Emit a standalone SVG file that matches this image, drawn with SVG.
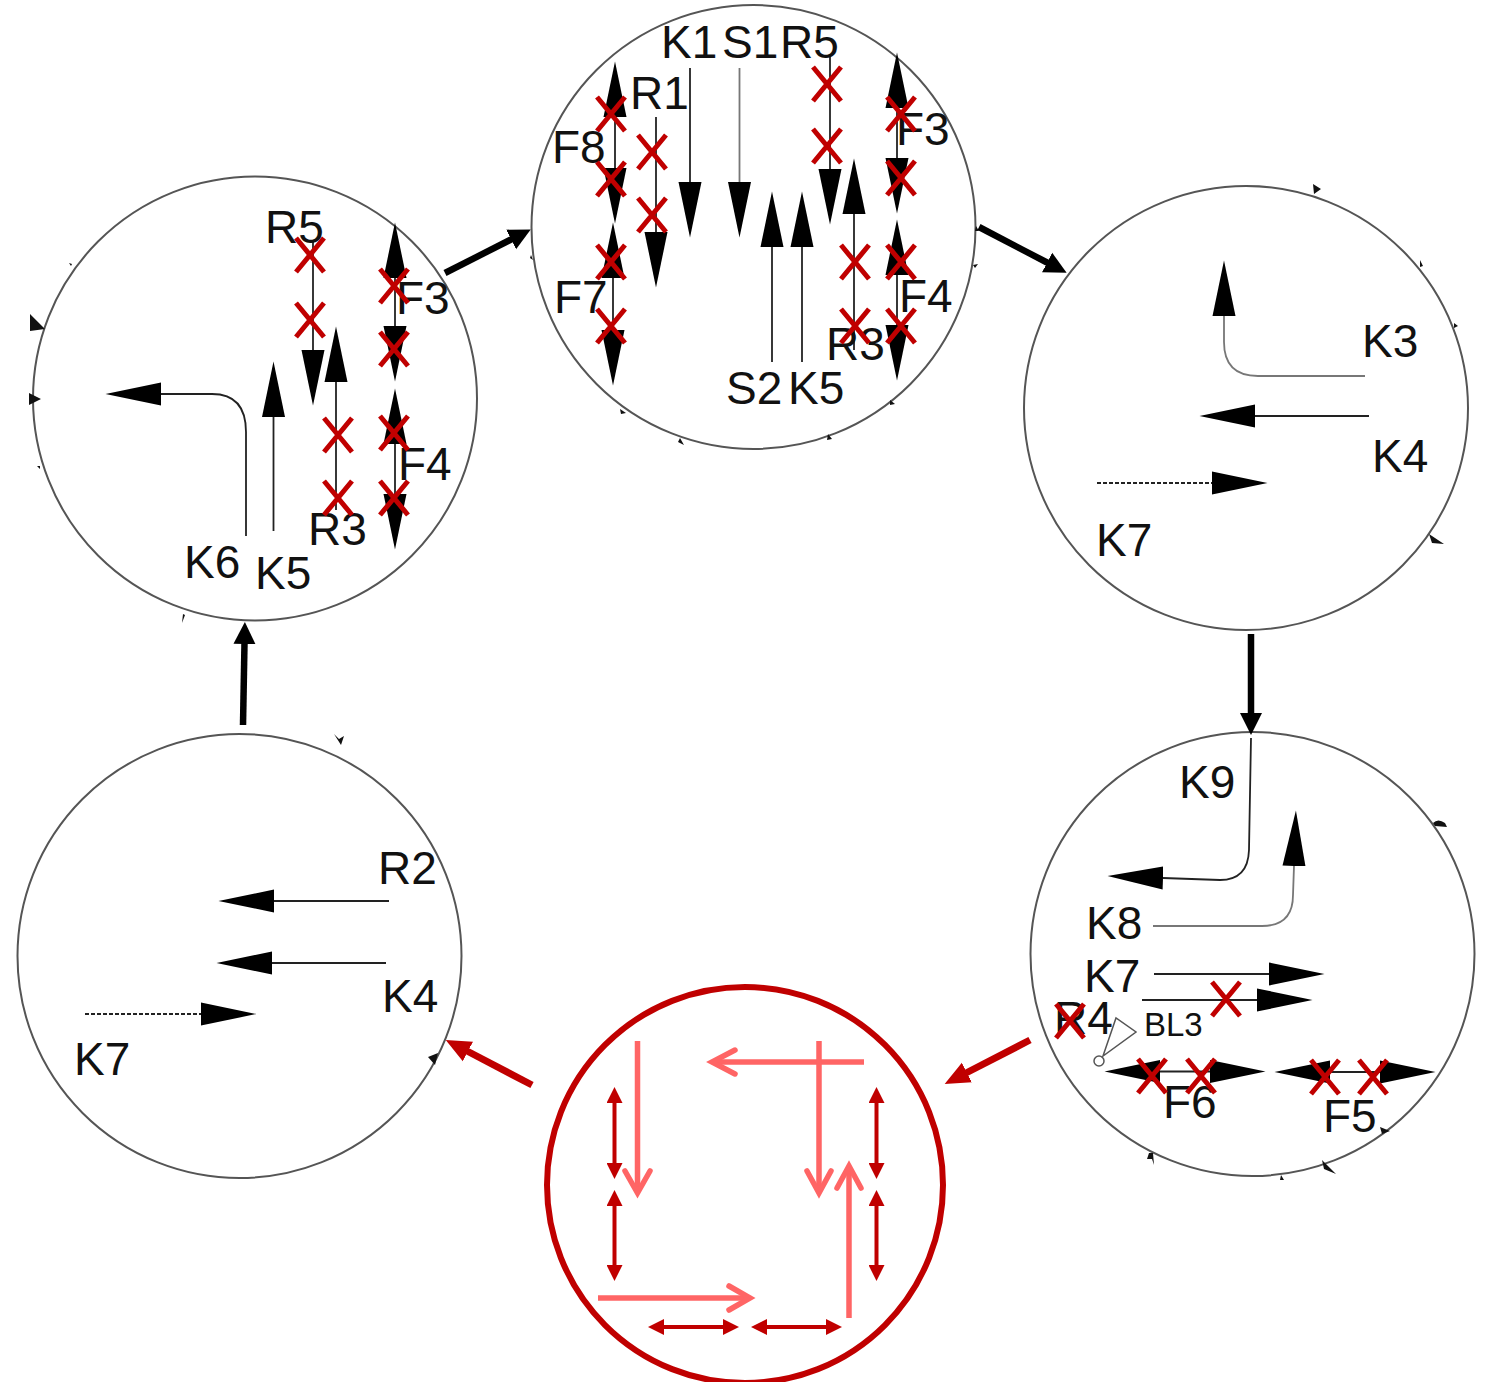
<svg xmlns="http://www.w3.org/2000/svg" width="1486" height="1382" viewBox="0 0 1486 1382">
<style>
text{font-family:"Liberation Sans",Arial,sans-serif;font-size:46px;fill:#111}
.c{fill:none;stroke:#555;stroke-width:2}
.l,.d,.g{fill:none;stroke:#222;stroke-width:1.8;marker-end:url(#a)}
.g{stroke:#777}
.d{stroke-dasharray:4 2}
.w{fill:none;stroke:#222;stroke-width:1.8;marker-start:url(#a);marker-end:url(#a)}
.x{fill:none;stroke:#c00000;stroke-width:5}
.t{fill:#111}
.p{fill:none;stroke:#ff6565;stroke-width:5.5}
.v{fill:none;stroke:#ff6565;stroke-width:5.5;stroke-linecap:round}
.q{fill:none;stroke:#c00000;stroke-width:4;marker-start:url(#q);marker-end:url(#q)}
.k{fill:none;stroke:#000;stroke-width:6.500;marker-end:url(#b)}
.r{fill:none;stroke:#c00000;stroke-width:7;marker-end:url(#r)}
</style>
<defs>
<marker id="a" markerUnits="userSpaceOnUse" markerWidth="56" markerHeight="24" viewBox="0 0 56 24" refX="0" refY="12" orient="auto-start-reverse"><path d="M0 .5L55.500 12L0 23.500Z" fill="#000"/></marker>
<marker id="q" markerUnits="userSpaceOnUse" markerWidth="16" markerHeight="16" viewBox="0 0 16 16" refX="1" refY="8" orient="auto-start-reverse"><path d="M0 0L16 8L0 16Z" fill="#c00000"/></marker>
<marker id="b" markerUnits="userSpaceOnUse" markerWidth="24" markerHeight="24" viewBox="0 0 24 24" refX="1" refY="12" orient="auto"><path d="M0 1L22 12L0 23Z" fill="#000"/></marker>
<marker id="r" markerUnits="userSpaceOnUse" markerWidth="28" markerHeight="24" viewBox="0 0 28 24" refX="1" refY="12" orient="auto"><path d="M0 1L25 12L0 23Z" fill="#c00000"/></marker>
<path id="x" d="M-14-17L14 17M14-17L-14 17" class="x"/>
</defs>

<g id="node-top">
<circle class="c" cx="753.500" cy="227" r="222"/>
<path class="t" d="M620 409l6 4-5 1ZM680 438l4 7-6-3ZM828 434l4 5-5 1ZM890 400l5 4-5 1ZM976 226l3 5-4 0ZM973 265l5-1-3 4ZM531 255l2 5-3-2Z"/>
<path class="l" d="M690 68V182"/><path class="g" d="M739.500 68V182"/><path class="l" d="M656 117V232"/><path class="l" d="M830 55V169"/>
<path class="l" d="M772 362V247"/><path class="l" d="M802 362V247"/><path class="l" d="M854 350V214"/>
<path class="w" d="M615 117V168"/><path class="w" d="M613 278V330"/><path class="w" d="M897 108V158"/><path class="w" d="M897 275V325"/>
<text x="661" y="58">K1</text><text x="722" y="58">S1</text><text x="780" y="58">R5</text><text x="630" y="109">R1</text><text x="552" y="163">F8</text><text x="554" y="313">F7</text><text x="896" y="145">F3</text><text x="899" y="312">F4</text><text x="826" y="360">R3</text><text x="726" y="404">S2</text><text x="788" y="404">K5</text>
<use href="#x" x="611" y="114"/><use href="#x" x="611" y="179"/><use href="#x" x="611" y="262"/><use href="#x" x="611" y="326"/><use href="#x" x="652" y="152"/><use href="#x" x="652" y="215"/><use href="#x" x="827" y="84"/><use href="#x" x="827" y="146"/><use href="#x" x="855" y="262"/><use href="#x" x="855" y="326"/><use href="#x" x="901" y="114"/><use href="#x" x="901" y="178"/><use href="#x" x="901" y="262"/><use href="#x" x="901" y="326"/>
</g>

<g id="node-right">
<circle class="c" cx="1246" cy="408" r="222"/>
<path class="t" d="M1313 184l8 5-7 5ZM1420 260l3 6-3 1ZM1454 323l4 3-4 2ZM1429 534l15 10-12-1Z"/>
<path class="g" d="M1365 376H1258Q1224 376 1224 342V316"/><path class="l" d="M1369 416H1255"/><path class="d" d="M1097 483H1212"/>
<text x="1362" y="357">K3</text><text x="1372" y="472">K4</text><text x="1096" y="556">K7</text>
</g>

<g id="node-bottom-right">
<circle class="c" cx="1252.500" cy="954" r="222"/>
<path class="t" d="M1433 823q5-5 12 0l2 4-12-1ZM1380 1127l10 4-8 3ZM1322 1160l14 14-12-5ZM1149 1153l4 0 1 12-2-6-5 0ZM1281 1175l3 5-4 0Z"/>
<path class="l" d="M1251 738L1249 850Q1248 880 1220 880L1163 878"/><path class="g" d="M1153 926H1262Q1293 926 1293 895L1294 866"/><path class="l" d="M1154 974H1269"/><path class="l" d="M1142 1000H1257"/>
<path class="w" d="M1160 1071.500H1210"/><path class="w" d="M1330 1072H1380"/>
<path d="M1103 1056L1116 1018L1136 1032Z" fill="none" stroke="#555" stroke-width="1.500"/><circle cx="1099" cy="1061" r="5" fill="none" stroke="#555" stroke-width="1.500"/>
<text x="1179" y="798">K9</text><text x="1086" y="939">K8</text><text x="1084" y="992">K7</text><text x="1054" y="1034">R4</text><text x="1144" y="1036" style="font-size:33px">BL3</text><text x="1163" y="1118">F6</text><text x="1323" y="1132">F5</text>
<use href="#x" x="1226" y="999"/><use href="#x" x="1070" y="1021"/><use href="#x" x="1152" y="1076"/><use href="#x" x="1201" y="1076"/><use href="#x" x="1325" y="1077"/><use href="#x" x="1373" y="1077"/>
</g>

<g id="node-bottom">
<circle cx="745" cy="1185" r="198" fill="none" stroke="#c00000" stroke-width="6"/>
<path class="p" d="M637.500 1041V1192"/><path class="v" d="M625 1171L637.500 1193L650 1171"/>
<path class="p" d="M864 1062H714"/><path class="v" d="M735 1050L712 1062L735 1074"/>
<path class="p" d="M819 1041V1192"/><path class="v" d="M807 1171L819 1193L831 1171"/>
<path class="p" d="M849 1318V1167"/><path class="v" d="M837 1188L849 1166L861 1188"/>
<path class="p" d="M598 1298H748"/><path class="v" d="M729 1286L750 1298L729 1310"/>
<path class="q" d="M614.500 1102V1164"/><path class="q" d="M614.500 1205V1266"/><path class="q" d="M876.500 1102V1164"/><path class="q" d="M876.500 1205V1266"/>
<path class="q" d="M663 1327H724"/><path class="q" d="M766 1327H827"/>
</g>

<g id="node-left-bottom">
<circle class="c" cx="239.500" cy="956" r="222"/>
<path class="t" d="M334 734l5 5 5-3-3 9ZM428 1057l10-4-3 12Z"/>
<path class="l" d="M389 901H274"/><path class="l" d="M386 963H272"/><path class="d" d="M85 1014H201"/>
<text x="378" y="884">R2</text><text x="382" y="1012">K4</text><text x="74" y="1075">K7</text>
</g>

<g id="node-left-top">
<circle class="c" cx="255" cy="398.500" r="222"/>
<path class="t" d="M30 314l15 15-15 2ZM29 393l12 6-12 6ZM69 263l3 1-1 2ZM37 466l3 0 0 3ZM183 614l2 1-3 8Z"/>
<path class="l" d="M246 536V432Q246 394 212 394H161"/><path class="l" d="M273.500 531V417"/><path class="l" d="M313 240V350"/><path class="l" d="M336 510V382"/>
<path class="w" d="M395 278V326"/><path class="w" d="M395 444V494"/>
<text x="265" y="243">R5</text><text x="396" y="314">F3</text><text x="398" y="480">F4</text><text x="308" y="545">R3</text><text x="184" y="578">K6</text><text x="255" y="589">K5</text>
<use href="#x" x="310" y="255"/><use href="#x" x="310" y="320"/><use href="#x" x="338" y="435"/><use href="#x" x="338" y="498"/><use href="#x" x="394" y="286"/><use href="#x" x="394" y="349"/><use href="#x" x="394" y="433"/><use href="#x" x="394" y="498"/>
</g>

<g id="connectors">
<path class="k" d="M445 273L512 239"/><path class="k" d="M979 227L1048 263"/><path class="k" d="M1251 634V714"/><path class="k" d="M243 725L244.500 643"/>
<path class="r" d="M1030 1040L966 1073"/><path class="r" d="M532 1085L467 1051"/>
</g>
</svg>
